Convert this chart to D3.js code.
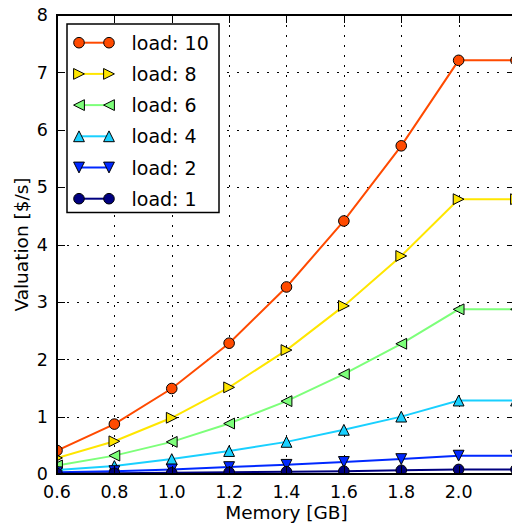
<!DOCTYPE html>
<html>
<head>
<meta charset="utf-8">
<script src="https://cdn.jsdelivr.net/npm/d3@7"></script>
<style>
  html, body { margin: 0; padding: 0; background: #fff; }
  svg { display: block; font-family: "DejaVu Sans", sans-serif; }
</style>
</head>
<body>
<svg id="chart" width="512" height="528"></svg>
<script>
// Memory sizes (GB) on the x axis
const memory = [0.6, 0.8, 1.0, 1.2, 1.4, 1.6, 1.8, 2.0, 2.2];

// Valuation ($/s) per load level
const load10 = [0.41, 0.87, 1.49, 2.28, 3.26, 4.41, 5.72, 7.21, 7.21];
const load8  = [0.28, 0.57, 0.98, 1.51, 2.16, 2.93, 3.80, 4.79, 4.79];
const load6  = [0.15, 0.32, 0.56, 0.88, 1.27, 1.74, 2.27, 2.87, 2.87];
const load4  = [0.07, 0.14, 0.26, 0.40, 0.56, 0.77, 1.00, 1.28, 1.28];
const load2  = [0.03, 0.05, 0.08, 0.12, 0.16, 0.21, 0.26, 0.32, 0.32];
const load1  = [0.008, 0.013, 0.02, 0.03, 0.04, 0.05, 0.065, 0.08, 0.08];

const seriesNames = ["load: 10", "load: 8", "load: 6", "load: 4", "load: 2", "load: 1"];
const seriesValues = [load10, load8, load6, load4, load2, load1];
const seriesColors = ["#ff4a00", "#ffe600", "#7dff7a", "#19d0ff", "#0028ff", "#000080"];
const seriesMarkers = ["circle", "right", "left", "up", "down", "circle"];

const xTicks = [0.6, 0.8, 1.0, 1.2, 1.4, 1.6, 1.8, 2.0];
const yTicks = [0, 1, 2, 3, 4, 5, 6, 7, 8];

const svg = d3.select("#chart");
const pLeft = 57, pRight = 516, pTop = 15, pBottom = 474;

const x = d3.scaleLinear().domain([0.6, 2.2]).range([pLeft, pRight]);
const y = d3.scaleLinear().domain([0, 8]).range([pBottom, pTop]);

svg.append("defs").append("clipPath").attr("id", "plotClip")
  .append("rect").attr("x", pLeft).attr("y", pTop)
  .attr("width", pRight - pLeft).attr("height", pBottom - pTop);

// dotted grid
const grid = svg.append("g");
grid.selectAll("line.vx").data(xTicks).join("line")
  .attr("x1", d => Math.round(x(d)) + 0.5).attr("x2", d => Math.round(x(d)) + 0.5)
  .attr("y1", pTop).attr("y2", pBottom)
  .attr("stroke", "#000").attr("stroke-width", 1).attr("stroke-dasharray", "2,8");
grid.selectAll("line.hy").data(yTicks).join("line")
  .attr("y1", d => Math.round(y(d)) + 0.5).attr("y2", d => Math.round(y(d)) + 0.5)
  .attr("x1", pLeft).attr("x2", pRight)
  .attr("stroke", "#000").attr("stroke-width", 1).attr("stroke-dasharray", "2,8");

function markerPath(kind, s) {
  switch (kind) {
    case "up":    return `M0,${-s}L${s},${s}L${-s},${s}Z`;
    case "down":  return `M0,${s}L${s},${-s}L${-s},${-s}Z`;
    case "right": return `M${s},0L${-s},${-s}L${-s},${s}Z`;
    case "left":  return `M${-s},0L${s},${-s}L${s},${s}Z`;
    default:      return d3.symbol(d3.symbolCircle, Math.PI * 5.3 * 5.3)();
  }
}

const plot = svg.append("g").attr("clip-path", "url(#plotClip)");
const line = d3.line().x(d => x(d[0])).y(d => y(d[1]));

seriesValues.forEach((vals, i) => {
  const pts = memory.map((m, j) => [m, vals[j]]);
  const g = plot.append("g");
  g.append("path").datum(pts).attr("d", line)
    .attr("fill", "none").attr("stroke", seriesColors[i]).attr("stroke-width", 2);
  g.selectAll("path.m").data(pts).join("path")
    .attr("transform", d => `translate(${x(d[0])},${y(d[1])})`)
    .attr("d", markerPath(seriesMarkers[i], 5.4))
    .attr("fill", seriesColors[i]).attr("stroke", "#000").attr("stroke-width", 1);
});

// axes with inward ticks on all four sides
const tickLen = 8;
const axes = svg.append("g").attr("stroke", "#000").attr("stroke-width", 1);
xTicks.forEach(t => {
  const px = Math.round(x(t)) + 0.5;
  axes.append("line").attr("x1", px).attr("x2", px).attr("y1", pBottom).attr("y2", pBottom - tickLen);
  axes.append("line").attr("x1", px).attr("x2", px).attr("y1", pTop).attr("y2", pTop + tickLen);
});
yTicks.forEach(t => {
  const py = Math.round(y(t)) + 0.5;
  axes.append("line").attr("x1", pLeft).attr("x2", pLeft + tickLen).attr("y1", py).attr("y2", py);
  axes.append("line").attr("x1", pRight).attr("x2", pRight - tickLen).attr("y1", py).attr("y2", py);
});
svg.append("rect").attr("x", pLeft).attr("y", pTop)
  .attr("width", pRight - pLeft).attr("height", pBottom - pTop)
  .attr("fill", "none").attr("stroke", "#000").attr("stroke-width", 2);

// tick labels
svg.append("g").selectAll("text").data(xTicks).join("text")
  .attr("x", d => x(d)).attr("y", 497.5)
  .attr("text-anchor", "middle").attr("font-size", 17.5).attr("fill", "#000")
  .text(d => d.toFixed(1));
svg.append("g").selectAll("text").data(yTicks).join("text")
  .attr("x", 48).attr("y", d => y(d) + 6.3)
  .attr("text-anchor", "end").attr("font-size", 17.5).attr("fill", "#000")
  .text(d => d);

// axis titles
svg.append("text").attr("x", (pLeft + pRight) / 2).attr("y", 519)
  .attr("text-anchor", "middle").attr("font-size", 18.5).text("Memory [GB]");
svg.append("text").attr("transform", `translate(28,${(pTop + pBottom) / 2}) rotate(-90)`)
  .attr("text-anchor", "middle").attr("font-size", 18.5).text("Valuation [$/s]");

// legend
const legend = svg.append("g");
legend.append("rect").attr("x", 67).attr("y", 24).attr("width", 152).attr("height", 188.5)
  .attr("fill", "#fff").attr("stroke", "#000").attr("stroke-width", 1.5);
seriesNames.forEach((name, i) => {
  const ry = 42.7 + i * 31.2;
  legend.append("line").attr("x1", 79).attr("x2", 109).attr("y1", ry).attr("y2", ry)
    .attr("stroke", seriesColors[i]).attr("stroke-width", 2);
  [79, 109].forEach(mx => {
    legend.append("path").attr("transform", `translate(${mx},${ry})`)
      .attr("d", markerPath(seriesMarkers[i], 5.4))
      .attr("fill", seriesColors[i]).attr("stroke", "#000").attr("stroke-width", 1);
  });
  legend.append("text").attr("x", 131.5).attr("y", ry + 7)
    .attr("font-size", 19).attr("fill", "#000").text(name);
});
</script>
</body>
</html>
